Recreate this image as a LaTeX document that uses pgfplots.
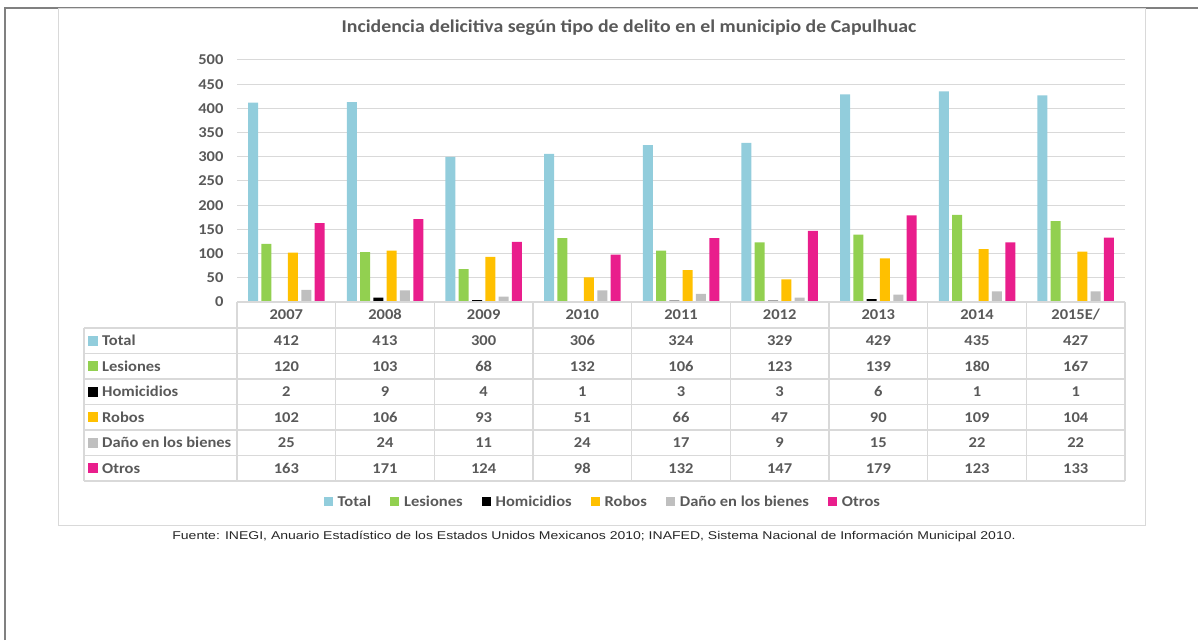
\documentclass[border=0pt]{standalone}
\usepackage{pgfplots}
\pgfplotsset{compat=1.18}
\usepackage{fontspec}
\setmainfont[FakeStretch=1.1]{Carlito}
\newfontfamily\arial[FakeStretch=1.24]{Liberation Sans}
\definecolor{cTot}{HTML}{92CDDC}
\definecolor{cLes}{HTML}{92D050}
\definecolor{cHom}{HTML}{000000}
\definecolor{cRob}{HTML}{FFC000}
\definecolor{cDan}{HTML}{BFBFBF}
\definecolor{cOtr}{HTML}{E91E8C}
\definecolor{txt}{HTML}{595959}
\definecolor{grd}{HTML}{D9D9D9}
\begin{document}
\begin{tikzpicture}[x=1pt,y=1pt]
\path[use as bounding box] (0,0) rectangle (1198,640);
% page frame
\draw[color=black!50, line width=1.5pt] (5,0) -- (5,632) -- (1198,632);
% chart box
\draw[grd, line width=1pt] (58,631) rectangle (1145,115);
\node[font=\fontsize{18}{20}\selectfont\bfseries, text=txt] at (629,612) {Incidencia delicitiva según tipo de delito en el municipio de Capulhuac};
\begin{axis}[at={(237pt,338pt)}, anchor=south west, scale only axis,
  width=888pt, height=242pt,
  xmin=-0.5, xmax=8.5, ymin=0, ymax=500,
  ytick={0,50,...,500}, xtick=\empty,
  ymajorgrids, grid style={grd, line width=1pt},
  axis line style={draw=none}, major tick length=0pt,
  yticklabel style={font=\fontsize{15}{17}\selectfont\bfseries, text=txt, xshift=-10pt},
  /pgf/number format/assume math mode=true,
  ybar=3.3pt, bar width=10pt,
  legend image code/.code={\fill[#1] (0pt,-4.5pt) rectangle (9pt,4.5pt);},
  legend style={at={(0.412,-0.826)}, anchor=center, draw=none, fill=none,
    font=\fontsize{15}{17}\selectfont\bfseries, text=txt, legend columns=6,
    /tikz/every odd column/.append style={column sep=3pt},
    /tikz/every even column/.append style={column sep=17pt}},
]
\addplot[fill=cTot, draw=none] coordinates {(0,412) (1,413) (2,300) (3,306) (4,324) (5,329) (6,429) (7,435) (8,427)};
\addlegendentry{Total}
\addplot[fill=cLes, draw=none] coordinates {(0,120) (1,103) (2,68) (3,132) (4,106) (5,123) (6,139) (7,180) (8,167)};
\addlegendentry{Lesiones}
\addplot[fill=cHom, draw=none] coordinates {(0,2) (1,9) (2,4) (3,1) (4,3) (5,3) (6,6) (7,1) (8,1)};
\addlegendentry{Homicidios}
\addplot[fill=cRob, draw=none] coordinates {(0,102) (1,106) (2,93) (3,51) (4,66) (5,47) (6,90) (7,109) (8,104)};
\addlegendentry{Robos}
\addplot[fill=cDan, draw=none] coordinates {(0,25) (1,24) (2,11) (3,24) (4,17) (5,9) (6,15) (7,22) (8,22)};
\addlegendentry{Daño en los bienes}
\addplot[fill=cOtr, draw=none] coordinates {(0,163) (1,171) (2,124) (3,98) (4,132) (5,147) (6,179) (7,123) (8,133)};
\addlegendentry{Otros}
\end{axis}
% data table
\begin{scope}[grd, line width=1.2pt]
\foreach \k in {0,...,9} \draw ({237+98.667*\k},338) -- ({237+98.667*\k},159);
\draw (237,338) -- (1125,338);
\foreach \yy in {312,286.5,261,235.5,210,184.5,159} \draw (84,\yy) -- (1125,\yy);
\draw (84,312) -- (84,159);
\end{scope}
\begin{scope}[font=\fontsize{15}{17}\selectfont\bfseries, text=txt]
\foreach \yr [count=\i from 0] in {2007,2008,2009,2010,2011,2012,2013,2014,2015E/}
  \node[anchor=base, inner sep=0pt] at ({286.33+98.667*\i},320) {\yr};
\foreach \nm/\col/\vals [count=\r from 0] in {
  Total/cTot/{412,413,300,306,324,329,429,435,427},
  Lesiones/cLes/{120,103,68,132,106,123,139,180,167},
  Homicidios/cHom/{2,9,4,1,3,3,6,1,1},
  Robos/cRob/{102,106,93,51,66,47,90,109,104},
  Daño en los bienes/cDan/{25,24,11,24,17,9,15,22,22},
  Otros/cOtr/{163,171,124,98,132,147,179,123,133}} {
  \pgfmathsetmacro{\yc}{299.25-25.5*\r}
  \fill[\col] (88,\yc-5) rectangle (98,\yc+5);
  \node[anchor=base west, inner sep=0pt] at (102,\yc-5) {\nm};
  \foreach \v [count=\i from 0] in \vals
    \node[anchor=base, inner sep=0pt] at ({286.33+98.667*\i},\yc-5) {\v};
}
\end{scope}
\node[font=\arial\fontsize{11.3}{13}\selectfont, text=black!85] at (594,103) {Fuente: INEGI, Anuario Estadístico de los Estados Unidos Mexicanos 2010; INAFED, Sistema Nacional de Información Municipal 2010.};
\end{tikzpicture}
\end{document}
